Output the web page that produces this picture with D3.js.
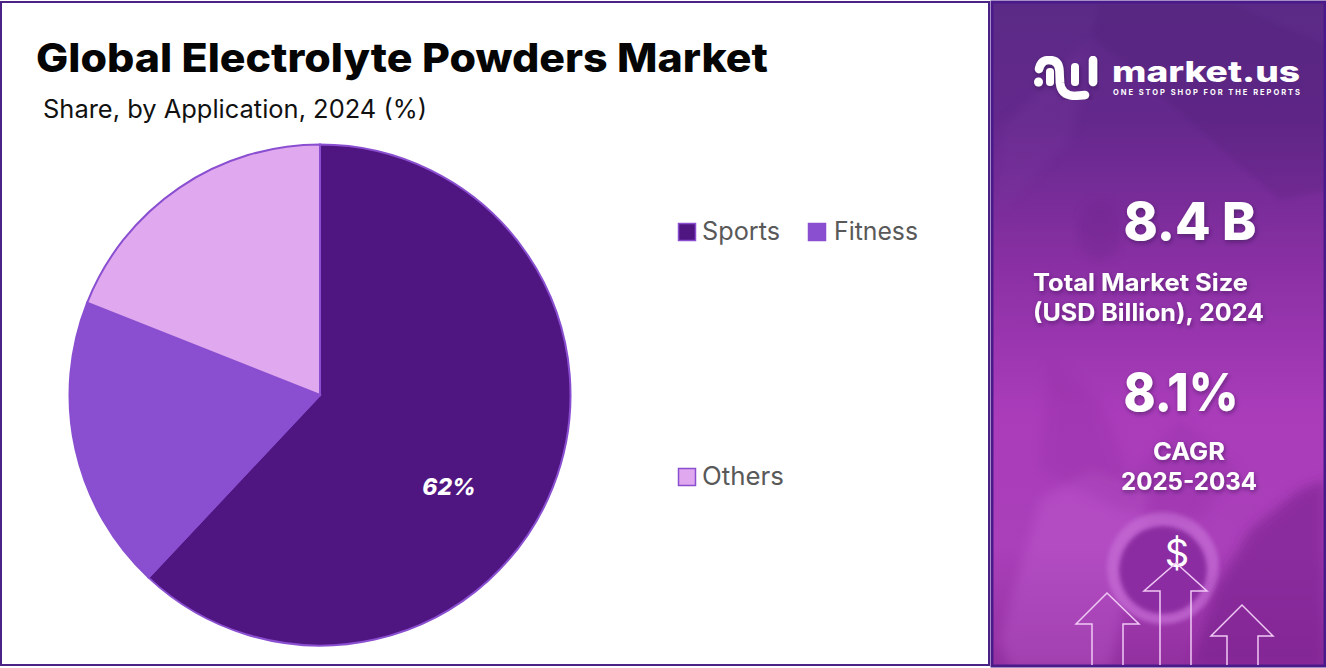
<!DOCTYPE html>
<html>
<head>
<meta charset="utf-8">
<script src="https://cdn.jsdelivr.net/npm/d3@7"></script>
<style>
html,body{margin:0;padding:0;background:#fff;overflow:hidden}
text{font-family:Inter,"Open Sans",sans-serif}
</style>
</head>
<body>
<div id="chart"></div>
<script>
var categories = ["Sports", "Fitness", "Others"];
var shares = [62, 19, 19];
var colors = ["#4f1581", "#8a4fd0", "#e0a8ee"];
var shownLabels = ["62%", "", ""];

var svgWidth = 1326;
var svgHeight = 668;

var svg = d3.select("#chart")
  .append("svg")
  .attr("width", svgWidth)
  .attr("height", svgHeight)
  .style("display", "block");

var defs = svg.append("defs");

var panelGrad = defs.append("linearGradient")
  .attr("id", "panelGrad")
  .attr("x1", 0).attr("y1", 0).attr("x2", 0).attr("y2", 1);
[["0%", "#5a2a86"], ["18%", "#64288c"], ["40%", "#8a30a4"], ["62%", "#aa3cba"], ["82%", "#aa40ba"], ["100%", "#92309f"]]
  .forEach(function(s) {
    panelGrad.append("stop").attr("offset", s[0]).attr("stop-color", s[1]);
  });

defs.append("filter").attr("id", "blur")
  .append("feGaussianBlur").attr("stdDeviation", 6);
defs.append("filter").attr("id", "softBlur")
  .append("feGaussianBlur").attr("stdDeviation", 2);
defs.append("filter").attr("id", "shadow")
  .append("feDropShadow")
  .attr("dx", 1).attr("dy", 2).attr("stdDeviation", 2)
  .attr("flood-color", "#2a0a40").attr("flood-opacity", 0.5);

// left panel
svg.append("rect")
  .attr("x", 1).attr("y", 2).attr("width", 988).attr("height", 663)
  .attr("fill", "#fff").attr("stroke", "#4b2386").attr("stroke-width", 2);

svg.append("text")
  .attr("x", 36).attr("y", 72)
  .attr("font-size", 40).attr("font-weight", 800)
  .attr("fill", "#050505")
  .attr("textLength", 732).attr("lengthAdjust", "spacingAndGlyphs")
  .text("Global Electrolyte Powders Market");

svg.append("text")
  .attr("x", 43).attr("y", 118)
  .attr("font-size", 25).attr("font-weight", 400)
  .attr("fill", "#111")
  .attr("textLength", 384).attr("lengthAdjust", "spacingAndGlyphs")
  .text("Share, by Application, 2024 (%)");

// pie
var pie = d3.pie().sort(null).value(function(d) { return d; });
var arc = d3.arc().innerRadius(0).outerRadius(250.5);
var labelArc = d3.arc().innerRadius(150).outerRadius(150);

var pieGroup = svg.append("g").attr("transform", "translate(320,395)");

pieGroup.selectAll("path")
  .data(pie(shares))
  .enter()
  .append("path")
  .attr("d", arc)
  .attr("fill", function(d, i) { return colors[i]; })
  .attr("stroke", "#8a4fd0")
  .attr("stroke-width", 2);

pieGroup.selectAll("text")
  .data(pie(shares))
  .enter()
  .append("text")
  .attr("transform", function(d) {
    var c = labelArc.centroid(d);
    return "translate(" + (c[0] - 10.5) + "," + (c[1] + 37) + ")";
  })
  .attr("text-anchor", "middle")
  .attr("dy", "0.35em")
  .attr("font-size", 23).attr("font-weight", 800).attr("font-style", "italic")
  .attr("fill", "#fff")
  .text(function(d, i) { return shownLabels[i]; });

// legend
var legendX = [678, 808, 678];
var legendY = [232, 232, 477];
var legendWidth = [78, 84, 82];
var legend = svg.selectAll(".legend")
  .data(categories)
  .enter()
  .append("g")
  .attr("class", "legend")
  .attr("transform", function(d, i) { return "translate(" + legendX[i] + "," + legendY[i] + ")"; });

legend.append("rect")
  .attr("x", 0.5).attr("y", -8.5).attr("width", 17).attr("height", 17)
  .attr("fill", function(d, i) { return colors[i]; })
  .attr("stroke", "#8a4fd0").attr("stroke-width", 1.5);

legend.append("text")
  .attr("x", function(d, i) { return i == 1 ? 26 : 24; })
  .attr("y", -1)
  .attr("dy", "0.35em")
  .attr("font-size", 25).attr("fill", "#595959")
  .attr("textLength", function(d, i) { return legendWidth[i]; })
  .attr("lengthAdjust", "spacingAndGlyphs")
  .text(function(d) { return d; });

// right panel
var side = svg.append("g");
side.append("rect")
  .attr("x", 991).attr("y", 1).attr("width", 334).attr("height", 666)
  .attr("fill", "url(#panelGrad)");

// faint photo shapes behind the text
var clip = defs.append("clipPath").attr("id", "sideClip");
clip.append("rect").attr("x", 993).attr("y", 3).attr("width", 331).attr("height", 662);
var photo = side.append("g").attr("clip-path", "url(#sideClip)");
photo.append("polygon")
  .attr("points", "1100,5 1235,5 1326,45 1326,190 1280,200 1092,35")
  .attr("fill", "#3c1560").attr("opacity", 0.12)
  .attr("filter", "url(#softBlur)");
photo.append("polygon")
  .attr("points", "1000,130 1090,40 1070,140 1000,210")
  .attr("fill", "#7a3aa0").attr("opacity", 0.25)
  .attr("filter", "url(#blur)");
photo.append("polygon")
  .attr("points", "1000,640 1040,500 1090,470 1150,490 1110,668 1010,668")
  .attr("fill", "#c868d8").attr("opacity", 0.3)
  .attr("filter", "url(#blur)");
photo.append("ellipse")
  .attr("cx", 1100).attr("cy", 230).attr("rx", 22).attr("ry", 30)
  .attr("fill", "#6a2088").attr("opacity", 0.3)
  .attr("filter", "url(#blur)");
photo.append("circle")
  .attr("cx", 1163).attr("cy", 568).attr("r", 56)
  .attr("fill", "#c46cd4").attr("opacity", 0.75)
  .attr("filter", "url(#softBlur)");
photo.append("circle")
  .attr("cx", 1163).attr("cy", 570).attr("r", 44)
  .attr("fill", "#8a2aa0").attr("opacity", 0.95)
  .attr("filter", "url(#softBlur)");
photo.append("polygon")
  .attr("points", "1190,668 1215,590 1250,530 1300,490 1326,480 1326,668")
  .attr("fill", "#7c2490").attr("opacity", 0.65)
  .attr("filter", "url(#blur)");
photo.append("polygon")
  .attr("points", "1050,360 1100,400 1130,480 1180,420 1240,470 1200,520 1120,510 1040,470")
  .attr("fill", "#8a2c9c").attr("opacity", 0.22)
  .attr("filter", "url(#blur)");

side.append("rect")
  .attr("x", 992).attr("y", 2).attr("width", 333).attr("height", 664)
  .attr("fill", "none").attr("stroke", "#4b1a8a").attr("stroke-width", 3);

// logo
var logo = side.append("g")
  .attr("fill", "none").attr("stroke", "#fff")
  .attr("stroke-linecap", "round")
  .attr("filter", "url(#shadow)");
logo.append("circle").attr("cx", 1038.5).attr("cy", 82).attr("r", 4.5).attr("fill", "#fff").attr("stroke", "none");
logo.append("path").attr("stroke-width", 8.5)
  .attr("d", "M1039,69 Q1041,60 1049,60 Q1059,60 1059.5,71 L1060,83 Q1061,95 1074,96 L1085,95");
logo.append("path").attr("stroke-width", 8).attr("d", "M1050,72 L1050,82");
logo.append("path").attr("stroke-width", 8).attr("d", "M1075,67 L1075,82");
logo.append("path").attr("stroke-width", 8.5).attr("d", "M1093,60 L1093,82");

side.append("text")
  .attr("x", 1112).attr("y", 82)
  .attr("font-size", 29).attr("font-weight", 800).attr("fill", "#fff")
  .attr("textLength", 188).attr("lengthAdjust", "spacingAndGlyphs")
  .text("market.us");
side.append("text")
  .attr("x", 1113).attr("y", 95)
  .attr("font-size", 7.5).attr("font-weight", 700).attr("fill", "#fff")
  .attr("textLength", 187).attr("lengthAdjust", "spacing")
  .text("ONE STOP SHOP FOR THE REPORTS");

// stats
var statText = [
  {t: "8.4 B", x: 1190, y: 240, s: 52, w: 800, a: "middle", l: 133},
  {t: "Total Market Size", x: 1033, y: 291, s: 24, w: 700, a: "start", l: 215},
  {t: "(USD Billion), 2024", x: 1033, y: 321, s: 24, w: 700, a: "start", l: 231},
  {t: "8.1%", x: 1181, y: 411, s: 52, w: 800, a: "middle", l: 115},
  {t: "CAGR", x: 1189, y: 460, s: 24, w: 700, a: "middle", l: 72},
  {t: "2025-2034", x: 1189, y: 490, s: 24, w: 700, a: "middle", l: 136}
];
side.selectAll(".stat")
  .data(statText)
  .enter()
  .append("text")
  .attr("class", "stat")
  .attr("x", function(d) { return d.x; })
  .attr("y", function(d) { return d.y; })
  .attr("font-size", function(d) { return d.s; })
  .attr("font-weight", function(d) { return d.w; })
  .attr("text-anchor", function(d) { return d.a; })
  .attr("textLength", function(d) { return d.l; })
  .attr("lengthAdjust", "spacingAndGlyphs")
  .attr("fill", "#fff")
  .attr("filter", "url(#shadow)")
  .text(function(d) { return d.t; });

// arrows and dollar
side.append("text")
  .attr("x", 1177).attr("y", 567)
  .attr("text-anchor", "middle")
  .attr("font-size", 38).attr("fill", "#fff")
  .text("$");

var arrowShapes = [
  "M1092,665 L1092,624 L1076,624 L1107,593 L1139,624 L1123,624 L1123,665",
  "M1160,665 L1160,591 L1144,591 L1176,563 L1207,591 L1191,591 L1191,665",
  "M1227,665 L1227,636 L1211,636 L1242,605 L1273,636 L1258,636 L1258,665"
];
side.selectAll(".arrow")
  .data(arrowShapes)
  .enter()
  .append("path")
  .attr("class", "arrow")
  .attr("d", function(d) { return d; })
  .attr("fill", "none")
  .attr("stroke", "#f0c8f5")
  .attr("stroke-width", 1.5);
</script>
</body>
</html>
